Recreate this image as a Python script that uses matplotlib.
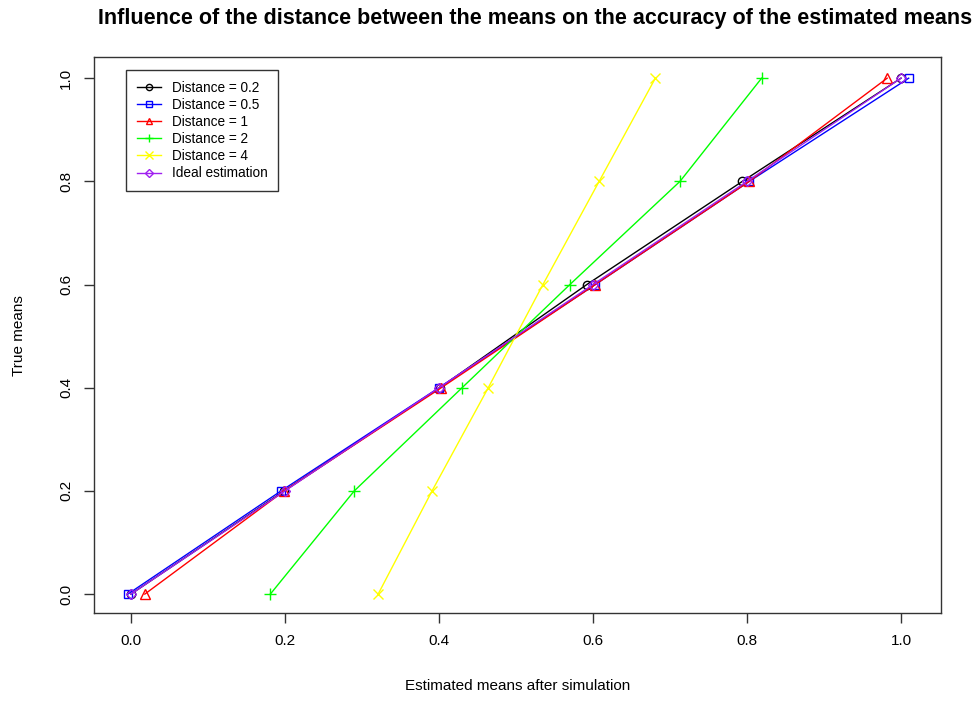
import matplotlib
matplotlib.use('Agg')
import matplotlib.pyplot as plt

plt.rcParams['font.family'] = ['Liberation Sans', 'DejaVu Sans']

# true means on the y axis, estimated means on the x axis
true_means = [0.0, 0.2, 0.4, 0.6, 0.8, 1.0]
est_d02 = [0.0, 0.199, 0.401, 0.592, 0.794, 1.0]
est_d05 = [-0.004, 0.195, 0.400, 0.603, 0.803, 1.010]
est_d1 = [0.018, 0.199, 0.403, 0.603, 0.803, 0.982]
est_d2 = [0.181, 0.290, 0.430, 0.570, 0.713, 0.819]
est_d4 = [0.321, 0.391, 0.464, 0.535, 0.608, 0.681]
est_ideal = [0.0, 0.2, 0.4, 0.6, 0.8, 1.0]

labels = ['Distance = 0.2', 'Distance = 0.5', 'Distance = 1',
          'Distance = 2', 'Distance = 4', 'Ideal estimation']
ticks = [0.0, 0.2, 0.4, 0.6, 0.8, 1.0]

series = [
    (est_d02, 'black', 'o', 6),
    (est_d05, 'blue', 's', 6),
    (est_d1, 'red', '^', 6.5),
    (est_d2, '#00ff00', '+', 8),
    (est_d4, '#ffff00', 'x', 7),
    (est_ideal, '#a020f0', 'D', 5),
]

fig = plt.figure(figsize=(9.77, 7.04), dpi=100)
ax = fig.add_axes([0.0962, 0.129, 0.867, 0.790])

for (xs, col, mk, ms), lab in zip(series, labels):
    ax.plot(xs, true_means, color=col, marker=mk, lw=1, ms=ms,
            mfc='none', mec=col, mew=1, label=lab)

ax.set_xlim(-0.048, 1.052)
ax.set_ylim(-0.037, 1.041)
ax.set_xticks(ticks)
ax.set_yticks(ticks)
ax.set_xticklabels(['%.1f' % t for t in ticks], fontsize=11)
ax.set_yticklabels(['%.1f' % t for t in ticks], fontsize=11,
                   rotation=90, va='center')
ax.tick_params(direction='out', length=7, width=1, color='#333333', pad=8)
for sp in ax.spines.values():
    sp.set_linewidth(1)
    sp.set_color('#333333')

ax.set_xlabel('Estimated means after simulation', fontsize=11, labelpad=22)
ax.set_ylabel('True means', fontsize=11, labelpad=24)
fig.text(0.548, 0.974, 'Influence of the distance between the means on the accuracy of the estimated means',
         ha='center', va='center', fontsize=15.5, fontweight='bold')

leg = ax.legend(loc='upper left', bbox_to_anchor=(0.0378, 0.977), fontsize=9.8,
                frameon=True, fancybox=False, edgecolor='black',
                borderaxespad=0, handlelength=1.8, labelspacing=0.23,
                borderpad=0.8, handletextpad=0.75, markerscale=0.75)
leg.get_frame().set_linewidth(1)

fig.savefig('out.png', dpi=100)
